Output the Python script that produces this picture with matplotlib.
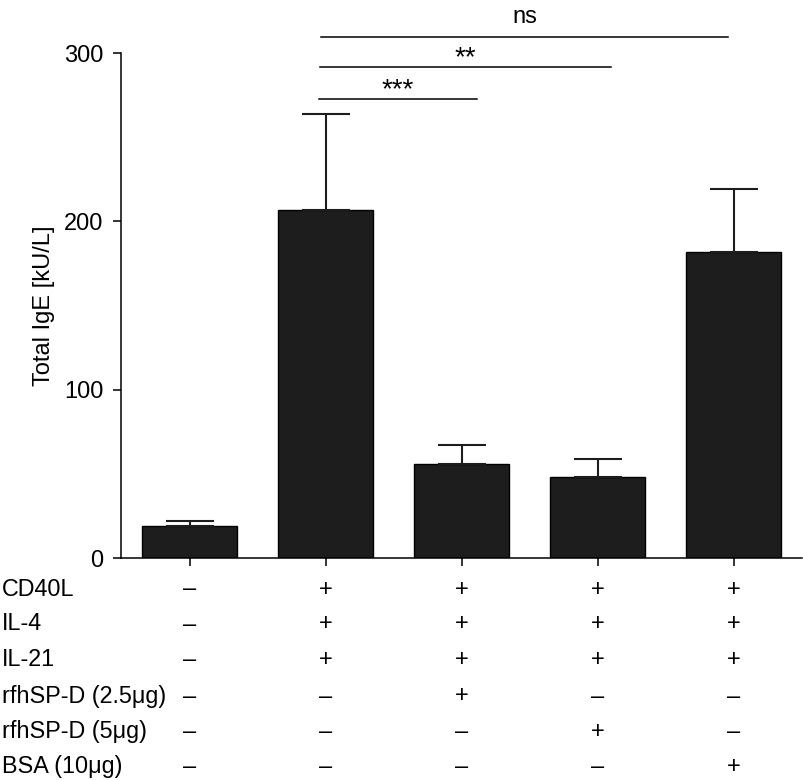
import matplotlib.pyplot as plt
from matplotlib.transforms import blended_transform_factory

plt.rcParams['font.family'] = ['Liberation Sans', 'DejaVu Sans']

# data
means = [19, 207, 56, 48, 182]
errors = [3, 57, 11, 11, 37]

row_labels = ['CD40L', 'IL-4', 'IL-21', 'rfhSP-D (2.5μg)', 'rfhSP-D (5μg)', 'BSA (10μg)']
row_signs = [
    ['–', '+', '+', '+', '+'],
    ['–', '+', '+', '+', '+'],
    ['–', '+', '+', '+', '+'],
    ['–', '–', '+', '–', '–'],
    ['–', '–', '–', '+', '–'],
    ['–', '–', '–', '–', '+'],
]

# significance brackets: start, end, height, text
sig_start = [0.955, 0.96, 0.965]
sig_end = [2.11, 3.10, 3.96]
sig_height = [272.7, 291.7, 309.7]
sig_text = ['***', '**', 'ns']
sig_text_y = [274.0, 293.0, 317.7]
sig_size = [20, 20, 17]

fig = plt.figure(figsize=(8.04, 7.8), dpi=100)
ax = fig.add_axes([0.1511, 0.2846, 0.8460, 0.6474])

x = list(range(len(means)))
ax.bar(x, means, width=0.7, color='#1d1d1d', edgecolor='black', linewidth=1,
       yerr=[[0] * len(errors), errors], capsize=17,
       error_kw=dict(elinewidth=1.5, capthick=1.5, ecolor='#1d1d1d'))

ax.set_xlim(-0.5, 4.5)
ax.set_ylim(0, 300)
ax.set_yticks([0, 100, 200, 300])
ax.set_xticks(x)
ax.set_xticklabels([])
for s in ['top', 'right']:
    ax.spines[s].set_visible(False)
for s in ['left', 'bottom']:
    ax.spines[s].set_linewidth(1.1)
ax.tick_params(axis='both', length=6, width=1.1, labelsize=17, pad=7)
ax.set_ylabel('Total IgE [kU/L]', fontsize=17)
ax.yaxis.set_label_coords(-0.098, 0.5)

for x0, x1, h, t, ty, fs in zip(sig_start, sig_end, sig_height, sig_text, sig_text_y, sig_size):
    ax.plot([x0, x1], [h, h], color='black', lw=1.1, clip_on=False)
    ax.text((x0 + x1) / 2, ty, t, ha='center', va='baseline', fontsize=fs)

# condition table under the axis
trans = blended_transform_factory(ax.transData, fig.transFigure)
baselines = [595.5, 630.5, 666, 702.5, 738, 773.3]
for label, signs, yb in zip(row_labels, row_signs, baselines):
    yf = 1 - yb / 780
    fig.text(0.002, yf, label, ha='left', va='baseline', fontsize=16.8)
    for xi, s in zip(x, signs):
        ax.text(xi, yf, s, transform=trans, ha='center', va='baseline', fontsize=17)

fig.savefig('out.png', dpi=100)
